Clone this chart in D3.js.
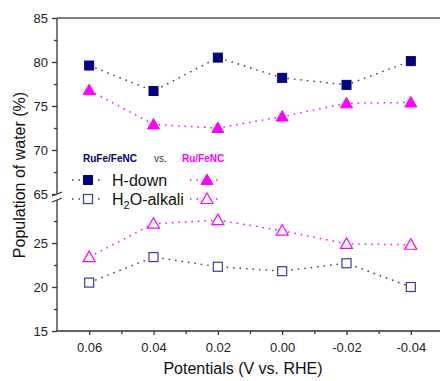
<!DOCTYPE html>
<html lang="en">
<head>
    <meta charset="utf-8">
    <script src="https://d3js.org/d3.v7.min.js"></script>
    <title>Population of water</title>
    <style>
        body { margin: 0; background: #fff; }
        text { font-family: "Liberation Sans", Arial, sans-serif; }
    </style>
</head>
<body>
    <div id="container"></div>
    <script>
        // data
        const potentials = [0.06, 0.04, 0.02, 0.00, -0.02, -0.04];
        const hDownRuFe = [79.6, 76.7, 80.5, 78.2, 77.4, 80.1];
        const hDownRu = [76.8, 72.9, 72.5, 73.8, 75.3, 75.4];
        const alkaliRuFe = [20.5, 23.4, 22.3, 21.8, 22.7, 20.0];
        const alkaliRu = [23.4, 27.2, 27.6, 26.4, 24.9, 24.8];
        const xTicks = [0.06, 0.04, 0.02, 0.00, -0.02, -0.04];
        const yTicksUpper = [65, 70, 75, 80, 85];
        const yTicksLower = [15, 20, 25];

        const w = 440, h = 381;
        const LEFT = 57, TOP = 18, BOTTOM = 331;
        const NAVY = "#000080", OPEN = "#3a3aa8", MAG = "#ff00ff";

        const svg = d3.select("#container").append("svg")
            .attr("width", w).attr("height", h);

        const xScale = d3.scaleLinear().domain([0.07, -0.05]).range([LEFT, 443]);
        const yUpper = d3.scaleLinear().domain([65, 85]).range([194, TOP]);
        const yLower = d3.scaleLinear().domain([15, 30]).range([BOTTOM, 199]);

        // frame top line
        svg.append("line")
           .attr("x1", LEFT).attr("x2", w).attr("y1", TOP).attr("y2", TOP)
           .attr("stroke", "#555").attr("stroke-width", 1.5);

        // x axis
        const fmt = d => d3.format(".2f")(d).replace("\u2212", "-");
        const xAxis = d3.axisBottom(xScale).tickValues(xTicks)
            .tickFormat(fmt).tickSizeOuter(0).tickSize(4).tickPadding(8);
        const gx = svg.append("g").attr("transform", "translate(0," + BOTTOM + ")").call(xAxis);
        gx.select(".domain").attr("d", "M" + LEFT + ",0H" + w);
        svg.append("g").attr("transform", "translate(0," + BOTTOM + ")")
           .call(d3.axisBottom(xScale).tickValues([0.05, 0.03, 0.01, -0.01, -0.03]).tickSize(3).tickFormat(""))
           .select(".domain").remove();

        // y axis upper
        const gyu = svg.append("g").attr("transform", "translate(" + LEFT + ",0)")
            .call(d3.axisLeft(yUpper).tickValues(yTicksUpper).tickSizeOuter(0).tickSize(5).tickPadding(4));
        svg.append("g").attr("transform", "translate(" + LEFT + ",0)")
           .call(d3.axisLeft(yUpper).tickValues([67.5, 72.5, 77.5, 82.5]).tickSize(3).tickFormat(""))
           .select(".domain").remove();
        // y axis lower
        const gyl = svg.append("g").attr("transform", "translate(" + LEFT + ",0)")
            .call(d3.axisLeft(yLower).tickValues(yTicksLower).tickSizeOuter(0).tickSize(5).tickPadding(4));
        svg.append("g").attr("transform", "translate(" + LEFT + ",0)")
           .call(d3.axisLeft(yLower).tickValues([17.5, 22.5, 27.5]).tickSize(3).tickFormat(""))
           .select(".domain").remove();

        svg.selectAll(".domain, .tick line").attr("stroke", "#333").attr("stroke-width", 1.3);
        svg.selectAll(".tick text").attr("font-size", 13).attr("fill", "#222")
           .style("font-family", "'Liberation Sans', Arial, sans-serif");
        gyu.select(".domain").attr("d", "M0,194V" + TOP);
        gyl.select(".domain").attr("d", "M0," + BOTTOM + "V200");

        // break marks
        [194, 200].forEach(y => {
            svg.append("line").attr("x1", LEFT - 5).attr("x2", LEFT + 5)
               .attr("y1", y + 2).attr("y2", y - 2).attr("stroke", "#333").attr("stroke-width", 1.3);
        });

        // series
        const series = [
            { vals: hDownRuFe, y: yUpper, color: NAVY, line: "#3a3a8a", shape: "square", filled: true },
            { vals: hDownRu, y: yUpper, color: MAG, line: MAG, shape: "triangle", filled: true },
            { vals: alkaliRuFe, y: yLower, color: OPEN, line: "#3a3a8a", shape: "square", filled: false },
            { vals: alkaliRu, y: yLower, color: MAG, line: MAG, shape: "triangle", filled: false }
        ];

        function marker(g, s, x, y) {
            if (s.shape === "square") {
                g.append("rect").attr("x", x - 4.5).attr("y", y - 4.5).attr("width", 9).attr("height", 9)
                 .attr("fill", s.filled ? s.color : "#fff").attr("stroke", s.color)
                 .attr("stroke-width", s.filled ? 1 : 1.2);
            } else {
                g.append("path").attr("d", "M" + x + "," + (y - 6) + "L" + (x + 6) + "," + (y + 4.5) + "L" + (x - 6) + "," + (y + 4.5) + "Z")
                 .attr("fill", s.filled ? s.color : "#fff").attr("stroke", s.color)
                 .attr("stroke-width", s.filled ? 1 : 1.2);
            }
        }

        series.forEach(s => {
            const line = d3.line().x((d, i) => xScale(potentials[i])).y(d => s.y(d));
            svg.append("path").datum(s.vals).attr("d", line)
               .attr("fill", "none").attr("stroke", s.line).attr("stroke-width", 1.5)
               .attr("stroke-dasharray", "1.5,5");
            const g = svg.append("g");
            s.vals.forEach((v, i) => marker(g, s, xScale(potentials[i]), s.y(v)));
        });

        // legend
        const lg = svg.append("g");
        lg.append("text").attr("x", 83).attr("y", 162).attr("font-size", 10).attr("font-weight", "bold")
          .attr("fill", NAVY).text("RuFe/FeNC");
        lg.append("text").attr("x", 154).attr("y", 162).attr("font-size", 10)
          .attr("fill", "#333").text("vs.");
        lg.append("text").attr("x", 182).attr("y", 162).attr("font-size", 10).attr("font-weight", "bold")
          .attr("fill", MAG).text("Ru/FeNC");
        const rows = [
            { y: 180, a: series[0], b: series[1] },
            { y: 199, a: series[2], b: series[3] }
        ];
        rows.forEach(r => {
            lg.append("line").attr("x1", 72).attr("x2", 103).attr("y1", r.y).attr("y2", r.y)
              .attr("stroke", r.a.line).attr("stroke-width", 1.5).attr("stroke-dasharray", "1.5,5");
            marker(lg, r.a, 88, r.y);
            lg.append("line").attr("x1", 190).attr("x2", 222).attr("y1", r.y).attr("y2", r.y)
              .attr("stroke", r.b.line).attr("stroke-width", 1.5).attr("stroke-dasharray", "1.5,5");
            marker(lg, r.b, 207, r.y);
        });
        lg.append("text").attr("x", 112).attr("y", 186).attr("font-size", 16).attr("fill", "#111").text("H-down");
        const t2 = lg.append("text").attr("x", 112).attr("y", 205).attr("font-size", 16).attr("fill", "#111");
        t2.append("tspan").text("H");
        t2.append("tspan").attr("font-size", 11).attr("dy", 4).text("2");
        t2.append("tspan").attr("dy", -4).text("O-alkali");

        // axis titles
        svg.append("text").attr("x", 243).attr("y", 374).attr("text-anchor", "middle")
           .attr("font-size", 16).attr("fill", "#111").text("Potentials (V vs. RHE)");
        svg.append("text").attr("transform", "translate(25,175) rotate(-90)").attr("text-anchor", "middle")
           .attr("font-size", 16).attr("fill", "#111").text("Population of water (%)");
    </script>
</body>
</html>
